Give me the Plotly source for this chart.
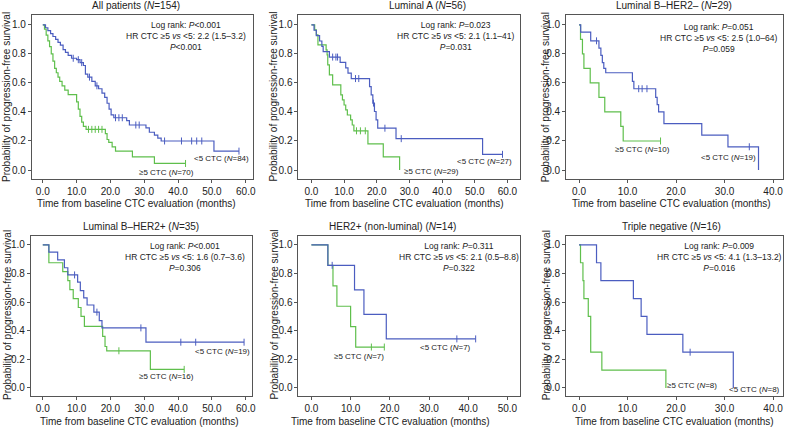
import numpy as np
import plotly.graph_objects as go

# ---------------- data ----------------
titles = ["All patients (<i>N</i>=154)", "Luminal A (<i>N</i>=56)", "Luminal B–HER2– (<i>N</i>=29)",
          "Luminal B–HER2+ (<i>N</i>=35)", "HER2+ (non-luminal) (<i>N</i>=14)", "Triple negative (<i>N</i>=16)"]

stats_logrank = ["<i>P</i>&lt;0.001", "<i>P</i>=0.023", "<i>P</i>=0.051", "<i>P</i>&lt;0.001", "<i>P</i>=0.311", "<i>P</i>=0.009"]
stats_hr = ["2.2 (1.5–3.2)", "2.1 (1.1–41)", "2.5 (1.0–64)", "1.6 (0.7–3.6)", "2.1 (0.5–8.8)", "4.1 (1.3–13.2)"]
stats_p = ["<i>P</i>&lt;0.001", "<i>P</i>=0.031", "<i>P</i>=0.059", "<i>P</i>=0.306", "<i>P</i>=0.322", "<i>P</i>=0.016"]

n_low = [84, 27, 19, 19, 7, 8]
n_high = [70, 29, 10, 16, 7, 8]
x_max = [60, 60, 40, 60, 50, 40]

# <5 CTC curves (time of step, survival after step), end time, censor times
low_t = [
    [0, 0.8, 1.5, 2.3, 3.0, 3.8, 4.5, 5.2, 6.0, 6.7, 7.5, 8.5, 10.0, 11.0, 12.0, 12.6, 13.3, 14.5, 15.5, 16.5, 17.5, 18.3, 19.0, 19.6, 20.2, 21.0, 24.8, 25.6, 30.5, 31.5, 33.0, 34.0, 35.0, 50.6],
    [0, 0.8, 1.5, 2.5, 3.2, 3.6, 5.5, 8.8, 10.5, 11.2, 12.2, 17.8, 18.3, 18.8, 19.3, 19.8, 20.3, 25.9, 52.4],
    [0, 0.34, 2.4, 4.1, 4.5, 4.8, 5.1, 5.5, 11.0, 11.3, 15.8, 16.1, 16.4, 17.5, 25.3, 30.7, 37.0],
    [0, 1.8, 4.4, 6.4, 7.4, 10.3, 11.1, 12.1, 13.1, 15.1, 16.7, 17.5, 30.5],
    [0, 4.2, 11.0, 13.4, 19.1],
    [0, 3.6, 4.5, 11.2, 12.8, 14.0, 21.4, 31.8],
]
low_s = [
    [1, 0.98, 0.96, 0.94, 0.92, 0.90, 0.88, 0.86, 0.83, 0.81, 0.79, 0.77, 0.76, 0.74, 0.72, 0.66, 0.64, 0.61, 0.58, 0.56, 0.53, 0.50, 0.46, 0.42, 0.38, 0.36, 0.34, 0.31, 0.29, 0.26, 0.24, 0.22, 0.20, 0.13],
    [1, 0.963, 0.926, 0.889, 0.852, 0.815, 0.778, 0.741, 0.704, 0.667, 0.630, 0.574, 0.518, 0.461, 0.403, 0.346, 0.288, 0.216, 0.108],
    [1, 0.95, 0.89, 0.84, 0.79, 0.74, 0.70, 0.67, 0.61, 0.56, 0.50, 0.45, 0.40, 0.32, 0.24, 0.16, 0.0],
    [1, 0.95, 0.895, 0.84, 0.79, 0.74, 0.68, 0.63, 0.58, 0.53, 0.47, 0.42, 0.32],
    [1, 0.857, 0.686, 0.514, 0.343],
    [1, 0.875, 0.75, 0.625, 0.5, 0.375, 0.25, 0.0],
]
low_end = [58.0, 58.5, 37.0, 59.5, 41.9, 31.8]
low_cens = [
    [9.0, 10.5, 11.5, 13.8, 16.0, 21.5, 22.5, 23.5, 27.5, 28.5, 36.0, 41.0, 44.0, 45.5, 47.0, 58.0],
    [6.5, 7.5, 8.0, 13.5, 14.5, 19.0, 22.5, 27.5, 58.5],
    [3.6, 12.3, 13.0, 14.0, 35.1],
    [9.4, 16.0, 29.0, 40.8, 45.2, 59.5],
    [5.3, 37.1, 41.9],
    [22.9],
]

# >=5 CTC curves
high_t = [
    [0, 0.5, 1.0, 1.5, 2.0, 2.5, 3.0, 3.5, 4.0, 4.5, 5.0, 5.7, 6.5, 7.5, 10.0, 10.5, 11.0, 11.5, 12.0, 12.8, 18.5, 19.0, 19.5, 20.5, 21.5, 26.5, 33.0],
    [0, 1.0, 1.5, 2.0, 4.5, 4.8, 5.0, 5.5, 6.5, 9.0, 9.5, 10.0, 10.5, 11.0, 12.0, 12.5, 13.0, 17.3, 22.0, 27.0],
    [0, 0.3, 0.7, 1.0, 2.3, 4.1, 5.3, 8.6, 9.1],
    [0, 1.8, 5.9, 7.4, 8.0, 9.0, 10.5, 11.3, 12.3, 17.7, 18.4, 18.9, 31.8],
    [0, 4.2, 5.5, 6.5, 10.0, 11.3],
    [0, 0.3, 0.8, 1.0, 1.9, 2.4, 4.7, 17.9],
]
high_s = [
    [1, 0.97, 0.93, 0.89, 0.85, 0.80, 0.75, 0.70, 0.67, 0.64, 0.61, 0.58, 0.55, 0.52, 0.47, 0.42, 0.37, 0.33, 0.30, 0.28, 0.25, 0.21, 0.19, 0.16, 0.13, 0.09, 0.045],
    [1, 0.966, 0.931, 0.862, 0.828, 0.793, 0.724, 0.655, 0.586, 0.517, 0.483, 0.448, 0.414, 0.379, 0.345, 0.31, 0.27, 0.18, 0.09, 0.0],
    [1, 0.9, 0.8, 0.7, 0.6, 0.5, 0.4, 0.3, 0.2],
    [1, 0.875, 0.8125, 0.75, 0.6875, 0.625, 0.5625, 0.5, 0.43, 0.36, 0.29, 0.26, 0.13],
    [1, 0.857, 0.714, 0.571, 0.429, 0.286],
    [1, 0.875, 0.75, 0.625, 0.5, 0.25, 0.125, 0.0],
]
high_end = [42.2, 27.0, 16.8, 41.8, 18.6, 17.9]
high_cens = [
    [13.5, 14.5, 15.5, 16.5, 17.5, 42.2],
    [13.8, 15.0, 16.5],
    [16.8],
    [22.5, 41.8],
    [15.3, 18.6],
    [],
]

# ---------------- layout geometry ----------------
W, H = 788, 432
box_px = [(32, 254), (300, 523), (569, 787), (31, 253), (300, 523), (569, 787)]
row_px = [(15, 179), (236, 396)]
x_ranges = [(-3.24, 62.06), (-3.96, 63.96), (-2.67, 42.05), (-3.53, 61.76), (-3.3, 53.3), (-2.67, 42.05)]
y_ranges = [(-0.062, 1.068), (-0.062, 1.068), (-0.062, 1.068), (-0.056, 1.062), (-0.056, 1.062), (-0.056, 1.062)]

# text positions (data coords)
stat_pos = [(42.4, 1.045), (44.2, 1.045), (28.9, 1.035), (42.1, 1.04), (37.6, 1.04), (28.9, 1.04)]
low_lab = [(52.9, 0.082), (53.0, 0.061), (30.8, 0.087), (53.0, 0.253), (34.3, 0.28), (36.1, -0.014)]
high_lab = [(36.5, -0.014), (36.9, -0.007), (13.1, 0.141), (36.5, 0.082), (12.2, 0.219), (23.2, 0.02)]
title_px = [(137, 6), (430, 6), (677, 6), (142, 227), (395, 227), (675, 227)]
xtitle_px = [(137, 203), (407, 203), (675, 203), (140, 421), (392, 421), (678, 421)]
ytitle_px = [(7, 97), (275, 97), (549, 97), (7, 315), (275, 315), (549, 315)]

BLUE = "#4b5dc0"
GREEN = "#5fbf4c"
FONT = "Liberation Sans, Arial, sans-serif"
TXT = "#222222"
AX = "#555555"

fig = go.Figure()
layout = dict(width=W, height=H, margin=dict(l=0, r=0, t=0, b=0),
              paper_bgcolor="white", plot_bgcolor="white", showlegend=False,
              font=dict(family=FONT, color=TXT, size=10))
annotations = []


def step_at(t, s, x):
    t = np.asarray(t, float)
    s = np.asarray(s, float)
    idx = np.searchsorted(t, x, side="right") - 1
    return s[np.clip(idx, 0, len(s) - 1)]


for i in range(6):
    r = i // 3
    xa = "x" if i == 0 else f"x{i+1}"
    ya = "y" if i == 0 else f"y{i+1}"
    xkey = "xaxis" if i == 0 else f"xaxis{i+1}"
    ykey = "yaxis" if i == 0 else f"yaxis{i+1}"
    x0, x1 = box_px[i]
    top, bot = row_px[r]
    layout[xkey] = dict(domain=[x0 / W, x1 / W], range=list(x_ranges[i]), anchor=ya,
                        tickvals=list(range(0, x_max[i] + 1, 10)),
                        ticktext=[f"{v:.1f}" for v in range(0, x_max[i] + 1, 10)],
                        showline=True, mirror=True, linecolor=AX, linewidth=1,
                        ticks="outside", ticklen=3, tickcolor=AX, showgrid=False, zeroline=False,
                        tickfont=dict(size=10, color=TXT))
    layout[ykey] = dict(domain=[1 - bot / H, 1 - top / H], range=list(y_ranges[i]), anchor=xa,
                        tickvals=[0, 0.2, 0.4, 0.6, 0.8, 1.0],
                        ticktext=["0.0", "0.2", "0.4", "0.6", "0.8", "1.0"],
                        showline=True, mirror=True, linecolor=AX, linewidth=1,
                        ticks="outside", ticklen=3, tickcolor=AX, showgrid=False, zeroline=False,
                        tickfont=dict(size=10, color=TXT))

    for (tt, ss, end, cens, col) in [(high_t[i], high_s[i], high_end[i], high_cens[i], GREEN),
                                      (low_t[i], low_s[i], low_end[i], low_cens[i], BLUE)]:
        fig.add_trace(go.Scatter(x=list(tt) + [end], y=list(ss) + [ss[-1]], mode="lines",
                                 line=dict(color=col, width=1.2, shape="hv"),
                                 xaxis=xa, yaxis=ya, hoverinfo="skip"))
        if cens:
            fig.add_trace(go.Scatter(x=cens, y=step_at(tt, ss, cens), mode="markers",
                                     marker=dict(symbol="line-ns", size=5, color=col,
                                                 line=dict(color=col, width=1)),
                                     xaxis=xa, yaxis=ya, hoverinfo="skip"))

    # statistics text
    annotations.append(dict(x=stat_pos[i][0], y=stat_pos[i][1], xref=xa, yref=ya,
                            text=f"Log rank: {stats_logrank[i]}<br>HR CTC ≥5 <i>vs</i> &lt;5: {stats_hr[i]}<br>{stats_p[i]}",
                            showarrow=False, xanchor="center", yanchor="top", align="center",
                            font=dict(size=8.5, color=TXT)))
    annotations.append(dict(x=low_lab[i][0], y=low_lab[i][1], xref=xa, yref=ya,
                            text=f"&lt;5 CTC (<i>N</i>={n_low[i]})", showarrow=False,
                            xanchor="center", yanchor="middle", font=dict(size=8, color=TXT)))
    annotations.append(dict(x=high_lab[i][0], y=high_lab[i][1], xref=xa, yref=ya,
                            text=f"≥5 CTC (<i>N</i>={n_high[i]})", showarrow=False,
                            xanchor="center", yanchor="middle", font=dict(size=8, color=TXT)))
    # titles
    tx, ty = title_px[i]
    annotations.append(dict(x=tx / W, y=1 - ty / H, xref="paper", yref="paper", text=titles[i],
                            showarrow=False, xanchor="center", yanchor="middle",
                            font=dict(size=10, color=TXT)))
    tx, ty = xtitle_px[i]
    annotations.append(dict(x=tx / W, y=1 - ty / H, xref="paper", yref="paper",
                            text="Time from baseline CTC evaluation (months)",
                            showarrow=False, xanchor="center", yanchor="middle",
                            font=dict(size=10, color=TXT)))
    tx, ty = ytitle_px[i]
    annotations.append(dict(x=tx / W, y=1 - ty / H, xref="paper", yref="paper",
                            text="Probability of progression-free survival", textangle=-90,
                            showarrow=False, xanchor="center", yanchor="middle",
                            font=dict(size=10, color=TXT)))

layout["annotations"] = annotations
fig.update_layout(**layout)
fig.write_html("out.html", config={"displayModeBar": False},
               post_script="document.body.style.margin='0';document.body.style.overflow='hidden';")
